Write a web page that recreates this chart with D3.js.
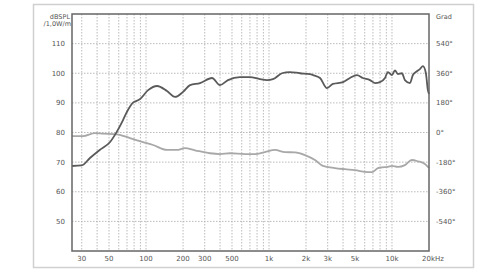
<!DOCTYPE html>
<html><head><meta charset="utf-8">
<script src="https://cdn.jsdelivr.net/npm/d3@7/dist/d3.min.js"></script>
<style>body{margin:0;background:#fff}svg{display:block}text{font-family:"DejaVu Sans",Verdana,sans-serif;fill:#555}</style>
</head><body><svg id="c" width="490" height="275"></svg>
<script>
const splFreq=[25,30,35,42,51,57,65,70,78,89,104,123,148,172,200,228,275,344,399,464,580,700,844,962,1077,1274,1480,1785,2150,2280,2600,2960,3310,4000,4550,5190,5800,6620,7270,7980,8770,9270,10000,10570,11170,12050,12740,14000,14790,15960,16860,17860,18870,19590,20000];
const splDb=[68.7,68.9,71.4,74.1,76.8,79.8,84.2,87,90,91.2,94.3,95.7,94,92,93.7,96,96.7,98.4,96,97.7,98.7,98.7,98,97.7,98,100,100.4,100,99.7,99.4,98.4,95,96.4,97,98.4,99.4,98.4,97.7,96.7,97,98.4,100.4,99.4,101,99.7,100,97.7,96.7,99.4,100.7,101.4,102.4,100,94.3,93];
const phaseFreq=[25,30.7,38.4,44.6,58,74,94.5,114,148,178,207,250,331,399,482,638,768,927,1117,1348,1625,1960,2365,2745,3435,4145,5000,6380,6870,7690,8300,9268,10000,11170,12740,14520,16260,18530,19590,20000];
const phaseDeg=[-22,-22,-4,-7,-11,-34,-58,-76,-106,-106,-95,-108,-126,-131,-126,-131,-131,-119,-106,-119,-121,-137,-167,-203,-216,-223,-229,-241,-241,-216,-212,-209,-203,-209,-198,-167,-175,-191,-209,-215];
const leftTicks=[50,60,70,80,90,100,110];
const rightTicks=[540,360,180,0,-180,-360,-540];
const xTickVals=[30,50,100,200,300,500,1000,2000,3000,5000,10000,20000];
const xTickLabels=["30","50","100","200","300","500","1k","2k","3k","5k","10k","20kHz"];

const svg=d3.select("#c");
const L=72,R=429,T=14,B=251;
const x=d3.scaleLog().domain([25,20000]).range([L,R]);
const y=d3.scaleLinear().domain([40,120]).range([B,T]);
const yp=d3.scaleLinear().domain([-720,720]).range([B,T]);

svg.append("rect").attr("x",33.5).attr("y",4.5).attr("width",440).attr("height",263).attr("fill","#fff").attr("stroke","#d0d0d0").attr("stroke-width",1.5);

// grid
const gridF=[];
for(let d=10;d<=10000;d*=10){for(let m=1;m<=9;m++){const f=d*m;if(f>25&&f<20000)gridF.push(f);}}
svg.append("g").selectAll("line").data(gridF).join("line")
 .attr("x1",d=>x(d)).attr("x2",d=>x(d)).attr("y1",T).attr("y2",B)
 .attr("stroke","#aaa").attr("stroke-width",0.8).attr("stroke-dasharray","1.5,1.5");
svg.append("g").selectAll("line").data(leftTicks).join("line")
 .attr("x1",L).attr("x2",R).attr("y1",d=>y(d)).attr("y2",d=>y(d))
 .attr("stroke","#aaa").attr("stroke-width",0.8).attr("stroke-dasharray","1.5,1.5");

// curves
const lineP=d3.line().x(d=>x(d[0])).y(d=>yp(d[1])).curve(d3.curveMonotoneX);
const lineS=d3.line().x(d=>x(d[0])).y(d=>y(d[1])).curve(d3.curveMonotoneX);
svg.append("path").attr("d",lineP(phaseFreq.map((f,i)=>[f,phaseDeg[i]]))).attr("fill","none").attr("stroke","#a8a8a8").attr("stroke-width",1.8);
svg.append("path").attr("d",lineS(splFreq.map((f,i)=>[f,splDb[i]]))).attr("fill","none").attr("stroke","#5a5a5a").attr("stroke-width",1.8);

// frame
svg.append("rect").attr("x",L).attr("y",T).attr("width",R-L).attr("height",B-T).attr("fill","none").attr("stroke","#666").attr("stroke-width",1.5);

// axes labels
const fs=7;
svg.append("g").selectAll("text").data(leftTicks).join("text")
 .attr("x",65).attr("y",d=>y(d)+2.5).attr("text-anchor","end").attr("font-size",fs).text(d=>d);
svg.append("g").selectAll("text").data(rightTicks).join("text")
 .attr("x",436).attr("y",d=>yp(d)+2.5).attr("text-anchor","start").attr("font-size",fs).text(d=>d+"°");
svg.append("g").selectAll("text").data(xTickVals).join("text")
 .attr("x",(d,i)=>i===xTickVals.length-1?x(d)-7:x(d)).attr("y",261).attr("text-anchor",(d,i)=>i===xTickVals.length-1?"start":"middle")
 .attr("font-size",fs).text((d,i)=>xTickLabels[i]);
svg.append("text").attr("x",70).attr("y",19).attr("text-anchor","end").attr("font-size",6.5).text("dBSPL");
svg.append("text").attr("x",71).attr("y",26).attr("text-anchor","end").attr("font-size",6.5).text("/1,0W/m");
svg.append("text").attr("x",436).attr("y",19).attr("font-size",6.5).text("Grad");
</script></body></html>
